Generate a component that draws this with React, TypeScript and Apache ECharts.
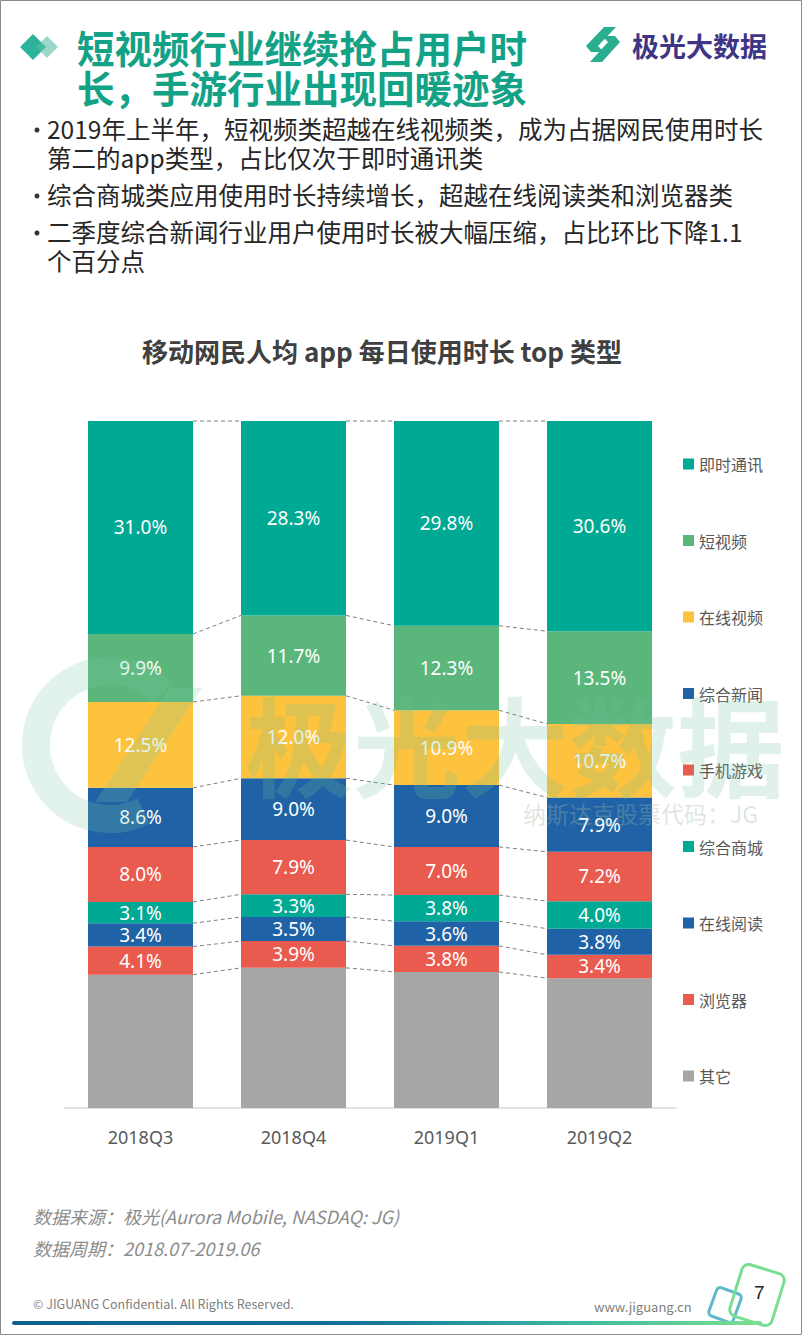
import React, { useEffect, useRef } from 'react';
import * as echarts from 'echarts';

const quarters = ['2018Q3', '2018Q4', '2019Q1', '2019Q2'];
const legendOrder = ['即时通讯', '短视频', '在线视频', '综合新闻', '手机游戏', '综合商城', '在线阅读', '浏览器', '其它'];
const imValues = [31.0, 28.3, 29.8, 30.6];
const shortVideoValues = [9.9, 11.7, 12.3, 13.5];
const onlineVideoValues = [12.5, 12.0, 10.9, 10.7];
const newsValues = [8.6, 9.0, 9.0, 7.9];
const gameValues = [8.0, 7.9, 7.0, 7.2];
const mallValues = [3.1, 3.3, 3.8, 4.0];
const readingValues = [3.4, 3.5, 3.6, 3.8];
const browserValues = [4.1, 3.9, 3.8, 3.4];
const otherValues = [19.4, 20.4, 19.8, 18.9];

const bullets = [
  ['2019年上半年，短视频类超越在线视频类，成为占据网民使用时长', '第二的app类型，占比仅次于即时通讯类'],
  ['综合商城类应用使用时长持续增长，超越在线阅读类和浏览器类'],
  ['二季度综合新闻行业用户使用时长被大幅压缩，占比环比下降1.1', '个百分点'],
];

const TEAL = '#00A993';
const GREEN = '#5BB67B';
const YELLOW = '#FDC33F';
const BLUE = '#1F63A6';
const RED = '#E95A4F';
const GRAY = '#A6A6A6';
const BAR_WIDTH = 105;
const CJK = "'Noto Sans CJK SC', 'Noto Sans', sans-serif";

// bottom-to-top stack order
const stackSeries = [
  { name: '其它', data: otherValues, color: GRAY, label: false },
  { name: '浏览器', data: browserValues, color: RED, label: true },
  { name: '在线阅读', data: readingValues, color: BLUE, label: true },
  { name: '综合商城', data: mallValues, color: TEAL, label: true },
  { name: '手机游戏', data: gameValues, color: RED, label: true },
  { name: '综合新闻', data: newsValues, color: BLUE, label: true },
  { name: '在线视频', data: onlineVideoValues, color: YELLOW, label: true },
  { name: '短视频', data: shortVideoValues, color: GREEN, label: true },
  { name: '即时通讯', data: imValues, color: TEAL, label: true },
];

function txt(text: string, x: number, y: number, opts: any = {}) {
  const { size = 16, color = '#333', weight = 'normal', align = 'left', family = CJK, style = 'normal', z = 10 } = opts;
  return {
    type: 'text',
    z,
    style: {
      text, x, y,
      fill: color,
      font: `${style} ${weight} ${size}px ${family}`,
      textAlign: align, align,
      textVerticalAlign: 'middle', verticalAlign: 'middle',
    },
  };
}

export default function App() {
  const ref = useRef<HTMLDivElement>(null);
  useEffect(() => {
    if (!ref.current) return;
    const chart = echarts.init(ref.current, null, { renderer: 'svg' });

    // connector data: cumulative boundaries between adjacent bars
    const cums = quarters.map((_, qi) => {
      let s = 0;
      return stackSeries.map((ss) => (s += ss.data[qi]));
    });
    const connectors: number[][] = [];
    for (let i = 0; i < quarters.length - 1; i++) {
      for (let k = 0; k < stackSeries.length; k++) {
        connectors.push([i, Math.min(cums[i][k], 100), Math.min(cums[i + 1][k], 100)]);
      }
    }

    const graphics: any[] = [];
    // page frame
    graphics.push({ type: 'rect', z: 1, shape: { x: 0.5, y: 0.5, width: 801, height: 1334 }, style: { fill: 'none', stroke: '#8a8a8a', lineWidth: 1 } });
    // diamonds
    graphics.push({ type: 'polygon', z: 10, shape: { points: [[33, 34], [46, 47], [33, 60], [20, 47]] }, style: { fill: '#2DB39B' } });
    graphics.push({ type: 'polygon', z: 11, shape: { points: [[47, 36], [58, 47], [47, 58], [36, 47]] }, style: { fill: 'rgba(90,190,165,0.6)' } });
    // title
    graphics.push(txt('短视频行业继续抢占用户时', 77, 46, { size: 37.5, color: '#14A287', weight: 'bold' }));
    graphics.push(txt('长，手游行业出现回暖迹象', 77, 86, { size: 37.5, color: '#14A287', weight: 'bold' }));
    // top logo
    graphics.push({ type: 'polygon', z: 10, shape: { points: [[586, 46], [604, 27], [616, 27], [598, 46], [604, 52], [591, 52]] }, style: { fill: '#2BAE8F' } });
    graphics.push({ type: 'polygon', z: 10, shape: { points: [[620, 42], [602, 62], [590, 62], [608, 42], [602, 36], [615, 36]] }, style: { fill: '#2BAE8F' } });
    graphics.push(txt('极光大数据', 632, 45, { size: 27, color: '#3F3585', weight: 'bold' }));
    // bullets
    let by = 128;
    bullets.forEach((b) => {
      graphics.push({ type: 'circle', z: 10, shape: { cx: 37, cy: by + 2, r: 2.5 }, style: { fill: '#333' } });
      b.forEach((line) => {
        graphics.push(txt(line, 47, by, { size: 24.5, color: '#262626' }));
        by += 29;
      });
      by += 8;
    });
    // chart title
    graphics.push(txt('移动网民人均 app 每日使用时长 top 类型', 382, 350, { size: 26, color: '#404040', weight: 'bold', align: 'center' }));
    // watermark
    graphics.push({ type: 'arc', z: 50, shape: { cx: 110, cy: 745, r: 74, startAngle: Math.PI * 0.35, endAngle: Math.PI * 1.75 }, style: { fill: 'none', stroke: 'rgba(120,200,160,0.22)', lineWidth: 28 } });
    graphics.push({ type: 'polygon', z: 50, shape: { points: [[95, 802], [170, 688], [202, 688], [127, 802]] }, style: { fill: 'rgba(120,200,160,0.22)' } });
    graphics.push(txt('极光大数据', 245, 742, { size: 108, color: 'rgba(110,190,150,0.22)', weight: 'bold', z: 50 }));
    graphics.push(txt('纳斯达克股票代码：JG', 523, 813, { size: 23, color: 'rgba(160,180,170,0.35)', z: 50 }));
    // footer
    graphics.push(txt('数据来源：极光(Aurora Mobile, NASDAQ: JG)', 33, 1216, { size: 18, color: '#8C8C8C', style: 'italic' }));
    graphics.push(txt('数据周期：2018.07-2019.06', 33, 1248, { size: 18, color: '#8C8C8C', style: 'italic' }));
    graphics.push(txt('© JIGUANG Confidential. All Rights Reserved.', 33, 1303, { size: 12.5, color: '#808080' }));
    graphics.push(txt('www.jiguang.cn', 594, 1306, { size: 13, color: '#808080' }));
    graphics.push({ type: 'rect', z: 10, x: 725, y: 1305, rotation: -0.35, originX: 0, originY: 0, shape: { x: -13, y: -15, width: 26, height: 30, r: 4 }, style: { fill: 'none', stroke: '#5FB9CB', lineWidth: 3 } });
    graphics.push({ type: 'rect', z: 11, x: 757, y: 1295, rotation: -0.3, shape: { x: -22, y: -27, width: 44, height: 54, r: 7 }, style: { fill: 'none', stroke: '#79DD93', lineWidth: 3 } });
    graphics.push(txt('7', 754, 1292, { size: 19, color: '#222', family: "'Liberation Sans', sans-serif", z: 12 }));
    graphics.push({
      type: 'rect', z: 10, shape: { x: 12, y: 1321, width: 750, height: 4, r: 2 },
      style: { fill: new echarts.graphic.LinearGradient(0, 0, 1, 0, [
        { offset: 0, color: '#10608F' }, { offset: 0.45, color: '#12709A' }, { offset: 0.75, color: '#3FB7A0' }, { offset: 1, color: '#7BE08E' },
      ]) },
    });

    chart.setOption({
      animation: false,
      backgroundColor: '#fff',
      graphic: graphics,
      grid: { left: 64, right: 126, top: 421, bottom: 227, containLabel: false },
      legend: {
        orient: 'vertical',
        left: 678,
        top: 449,
        data: legendOrder,
        icon: 'rect',
        itemWidth: 11,
        itemHeight: 11,
        itemGap: 56.5,
        textStyle: { fontSize: 16, lineHeight: 20, color: '#595959', fontFamily: CJK },
        selectedMode: false,
      },
      xAxis: {
        type: 'category',
        data: quarters,
        axisLine: { lineStyle: { color: '#D9D9D9', width: 1.5 } },
        axisTick: { show: false },
        axisLabel: { fontSize: 18, color: '#595959', margin: 20, fontFamily: "'Noto Sans', sans-serif" },
      },
      yAxis: { type: 'value', min: 0, max: 100, show: false, splitLine: { show: false } },
      series: [
        ...stackSeries.map((s) => ({
          name: s.name,
          type: 'bar',
          stack: 'total',
          barWidth: BAR_WIDTH,
          data: s.data,
          itemStyle: { color: s.color },
          label: {
            show: s.label,
            position: 'inside',
            color: '#fff',
            fontSize: 19,
            fontFamily: "'Noto Sans', sans-serif",
            formatter: (p: any) => `${Number(p.value).toFixed(1)}%`,
          },
        })),
        {
          name: 'connectors',
          type: 'custom',
          data: connectors,
          encode: { x: 0, y: [1, 2] },
          silent: true,
          z: 1,
          renderItem: (_params: any, api: any) => {
            const i = api.value(0);
            const a = api.coord([i, api.value(1)]);
            const b = api.coord([i + 1, api.value(2)]);
            const half = BAR_WIDTH / 2;
            return {
              type: 'line',
              shape: { x1: a[0] + half, y1: a[1], x2: b[0] - half, y2: b[1] },
              style: { stroke: '#7F7F7F', lineWidth: 1, lineDash: [4, 3] },
            };
          },
        },
      ],
    });
    return () => chart.dispose();
  }, []);
  return (
    <div
      ref={ref}
      style={{ position: 'absolute', left: 0, top: 0, width: 802, height: 1335, background: '#fff' }}
    />
  );
}
